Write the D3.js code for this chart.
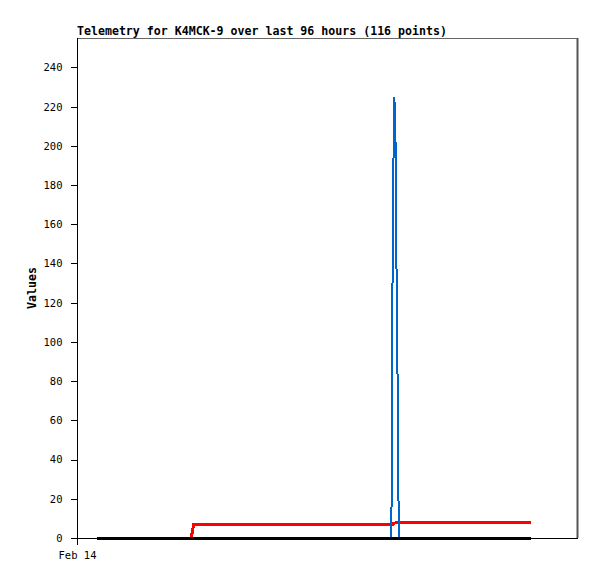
<!DOCTYPE html>
<html>
<head>
<meta charset="utf-8">
<script src="https://cdn.jsdelivr.net/npm/d3@7"></script>
<style>
  html, body { margin: 0; padding: 0; background: #fff; }
  svg { display: block; }
</style>
</head>
<body>
<svg id="chart" width="597" height="579"></svg>
<script>
// ---- data ----
const titleText = "Telemetry for K4MCK-9 over last 96 hours (116 points)";
const yLabel = "Values";
const dayStart = "2024-02-14T00:00";
const dayEnd = "2024-02-15T00:00";
const xTickDates = ["2024-02-14T00:00"];
const yTickValues = [0, 20, 40, 60, 80, 100, 120, 140, 160, 180, 200, 220, 240];
const yMax = 255;

const blackTimes = ["00:58", "21:47"];
const blackValues = [0, 0];

const redTimes = ["00:58", "05:29", "05:32", "05:36", "15:06", "15:10", "15:11", "15:18", "21:47"];
const redValues = [0, 0, 3, 6.8, 6.8, 6.9, 7.3, 7.8, 7.8];

const blueTimes = ["00:58", "15:05", "15:07", "15:08", "15:11", "15:14", "15:18", "15:20", "15:23", "15:25", "15:28", "21:47"];
const blueValues = [0, 0, 38, 112, 187, 225, 197, 141, 85, 28, 0, 0];

// ---- chart ----
const svg = d3.select("#chart");
const margin = { left: 77, top: 38, right: 20, bottom: 41 };
const W = 597, H = 579;
const x0 = margin.left, x1 = W - margin.right, y0 = H - margin.bottom, y1 = margin.top;

const parseFull = d3.timeParse("%Y-%m-%dT%H:%M");
const x = d3.scaleTime().domain([parseFull(dayStart), parseFull(dayEnd)]).range([x0, x1]);
const y = d3.scaleLinear().domain([0, yMax]).range([y0, y1]);

const toPts = (times, vals) => times.map((t, i) => ({ t: parseFull("2024-02-14T" + t), v: vals[i] }));

const mono = "'DejaVu Sans Mono', 'Liberation Mono', monospace";

// frame top/right (gray)
svg.append("line").attr("x1", x0).attr("x2", x1).attr("y1", y1 + 0.5).attr("y2", y1 + 0.5)
  .attr("stroke", "#666").attr("stroke-width", 1);
svg.append("line").attr("x1", x1 + 0.5).attr("x2", x1 + 0.5).attr("y1", y1).attr("y2", y0)
  .attr("stroke", "#555").attr("stroke-width", 2);

// y axis
const yAxis = d3.axisLeft(y).tickValues(yTickValues).tickSize(7).tickPadding(8).tickSizeOuter(0);
const gy = svg.append("g").attr("transform", `translate(${x0 + 0.5},0)`).call(yAxis);
gy.select(".domain").remove();
gy.selectAll("line").attr("stroke", "#000").attr("shape-rendering", "crispEdges");
gy.selectAll("text").attr("font-family", mono).attr("font-size", "10.5px").attr("fill", "#000");
svg.append("line").attr("x1", x0 + 0.5).attr("x2", x0 + 0.5).attr("y1", y1).attr("y2", y0 + 7)
  .attr("stroke", "#000").attr("shape-rendering", "crispEdges");

// x axis
const xAxis = d3.axisBottom(x).tickValues(xTickDates.map(parseFull)).tickFormat(d3.timeFormat("%b %d"))
  .tickSize(7).tickPadding(6).tickSizeOuter(0);
const gx = svg.append("g").attr("transform", `translate(0,${y0 + 0.5})`).call(xAxis);
gx.select(".domain").remove();
gx.selectAll("line").remove();
gx.selectAll("text").attr("font-family", mono).attr("font-size", "10.5px").attr("fill", "#000");
svg.append("line").attr("x1", x0).attr("x2", x1 + 1).attr("y1", y0 + 0.5).attr("y2", y0 + 0.5)
  .attr("stroke", "#000").attr("shape-rendering", "crispEdges");

// lines
const line = d3.line().x(d => x(d.t)).y(d => y(d.v));
svg.append("path").datum(toPts(redTimes, redValues)).attr("d", line)
  .attr("fill", "none").attr("stroke", "#ff0000").attr("stroke-width", 3)
  .attr("shape-rendering", "crispEdges");
svg.append("path").datum(toPts(blueTimes, blueValues)).attr("d", line)
  .attr("fill", "none").attr("stroke", "#0066cc").attr("stroke-width", 2)
  .attr("shape-rendering", "crispEdges");
svg.append("path").datum(toPts(blackTimes, blackValues)).attr("d", line)
  .attr("fill", "none").attr("stroke", "#000").attr("stroke-width", 3)
  .attr("shape-rendering", "crispEdges");

// title
svg.append("text").attr("x", x0).attr("y", 35).text(titleText)
  .attr("font-family", mono).attr("font-size", "11.6px").attr("font-weight", "bold").attr("fill", "#000");

// y label
svg.append("text").attr("transform", `translate(36,${(y0 + y1) / 2}) rotate(-90)`)
  .attr("text-anchor", "middle").text(yLabel)
  .attr("font-family", mono).attr("font-size", "11.6px").attr("font-weight", "bold").attr("fill", "#000");
</script>
</body>
</html>
